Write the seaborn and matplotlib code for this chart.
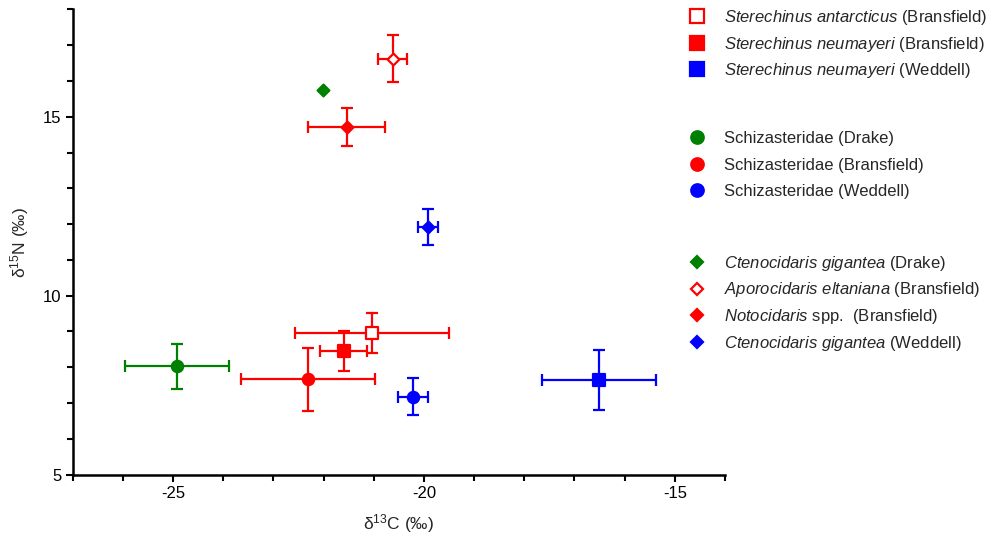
import numpy as np
import matplotlib
matplotlib.use('Agg')
import matplotlib.pyplot as plt
from matplotlib.lines import Line2D
from matplotlib.ticker import MultipleLocator
import seaborn as sns

# groups (legend blocks) and their rows
taxa = [
    r'$\mathit{Sterechinus\ antarcticus}$ (Bransfield)',
    r'$\mathit{Sterechinus\ neumayeri}$ (Bransfield)',
    r'$\mathit{Sterechinus\ neumayeri}$ (Weddell)',
    'Schizasteridae (Drake)',
    'Schizasteridae (Bransfield)',
    'Schizasteridae (Weddell)',
    r'$\mathit{Ctenocidaris\ gigantea}$ (Drake)',
    r'$\mathit{Aporocidaris\ eltaniana}$ (Bransfield)',
    r'$\mathit{Notocidaris}$ spp.  (Bransfield)',
    r'$\mathit{Ctenocidaris\ gigantea}$ (Weddell)',
]
d13C = [-21.04, -21.60, -16.51, -24.92, -22.31, -20.21, -22.01, -20.62, -21.54, -19.91]
d15N = [8.96, 8.46, 7.65, 8.03, 7.67, 7.18, 15.74, 16.62, 14.71, 11.93]
d13C_sd = [1.53, 0.47, 1.13, 1.04, 1.34, 0.30, np.nan, 0.29, 0.77, 0.20]
d15N_sd = [0.57, 0.55, 0.84, 0.63, 0.88, 0.52, np.nan, 0.66, 0.54, 0.50]

colours = ['red', 'red', 'blue', 'green', 'red', 'blue', 'green', 'red', 'red', 'blue']
markers = ['s', 's', 's', 'o', 'o', 'o', 'D', 'D', 'D', 'D']
filled = [False, True, True, True, True, True, True, False, True, True]
blocks = [(0, 3), (3, 6), (6, 10)]

sns.set_theme(style='ticks')
plt.rcParams['font.family'] = ['Liberation Sans', 'DejaVu Sans']
plt.rcParams['mathtext.fontset'] = 'custom'
plt.rcParams['mathtext.rm'] = 'Liberation Sans'
plt.rcParams['mathtext.it'] = 'Liberation Sans:italic'
plt.rcParams['axes.unicode_minus'] = False

fig = plt.figure(figsize=(10.03, 5.36), dpi=100)
ax = fig.add_axes([0.0725, 0.1144, 0.6503, 0.8682])

msize = {'s': 66, 'o': 66, 'D': 36}
for i in range(len(taxa)):
    c = colours[i]
    if not np.isnan(d13C_sd[i]):
        ax.errorbar(d13C[i], d15N[i], xerr=d13C_sd[i], yerr=d15N_sd[i], fmt='none',
                    ecolor=c, elinewidth=1.6, capsize=4.3, capthick=1.6, zorder=2)
    face = c if filled[i] else 'white'
    sns.scatterplot(x=[d13C[i]], y=[d15N[i]], marker=markers[i], s=msize[markers[i]],
                    color=face, edgecolor=c, linewidth=1.6, ax=ax, zorder=3)

ax.set_xlim(-27, -14)
ax.set_ylim(5, 18)
ax.xaxis.set_major_locator(MultipleLocator(5))
ax.xaxis.set_minor_locator(MultipleLocator(1))
ax.yaxis.set_major_locator(MultipleLocator(5))
ax.yaxis.set_minor_locator(MultipleLocator(1))
ax.tick_params(which='major', length=5, width=1.5, labelsize=12, colors='black', pad=3)
ax.tick_params(which='minor', length=4, width=1.5, colors='black')
sns.despine(ax=ax)
for side in ['left', 'bottom']:
    ax.spines[side].set_linewidth(1.8)
    ax.spines[side].set_color('black')

ax.set_xlabel(r'δ$^{13}$C (‰)', fontsize=12.5, labelpad=8)
ax.set_ylabel(r'δ$^{15}$N (‰)', fontsize=12.5, labelpad=9)

legend_ms = {'s': 9.8, 'o': 9, 'D': 6}
tops = [0.985, 0.7554, 0.5267]
spacings = [0.45, 0.69, 0.46]
for (a, b), top, sp in zip(blocks, tops, spacings):
    handles = []
    for i in range(a, b):
        handles.append(Line2D([], [], linestyle='none', marker=markers[i],
                              markersize=legend_ms[markers[i]],
                              markerfacecolor=colours[i] if filled[i] else 'white',
                              markeredgecolor=colours[i], markeredgewidth=1.6))
    fig.legend(handles, taxa[a:b], loc='upper left', bbox_to_anchor=(0.6866, top),
               frameon=False, fontsize=12, handlelength=1.0, handletextpad=1.15,
               labelspacing=sp, borderaxespad=0, borderpad=0)

fig.savefig('out.png', dpi=100)
